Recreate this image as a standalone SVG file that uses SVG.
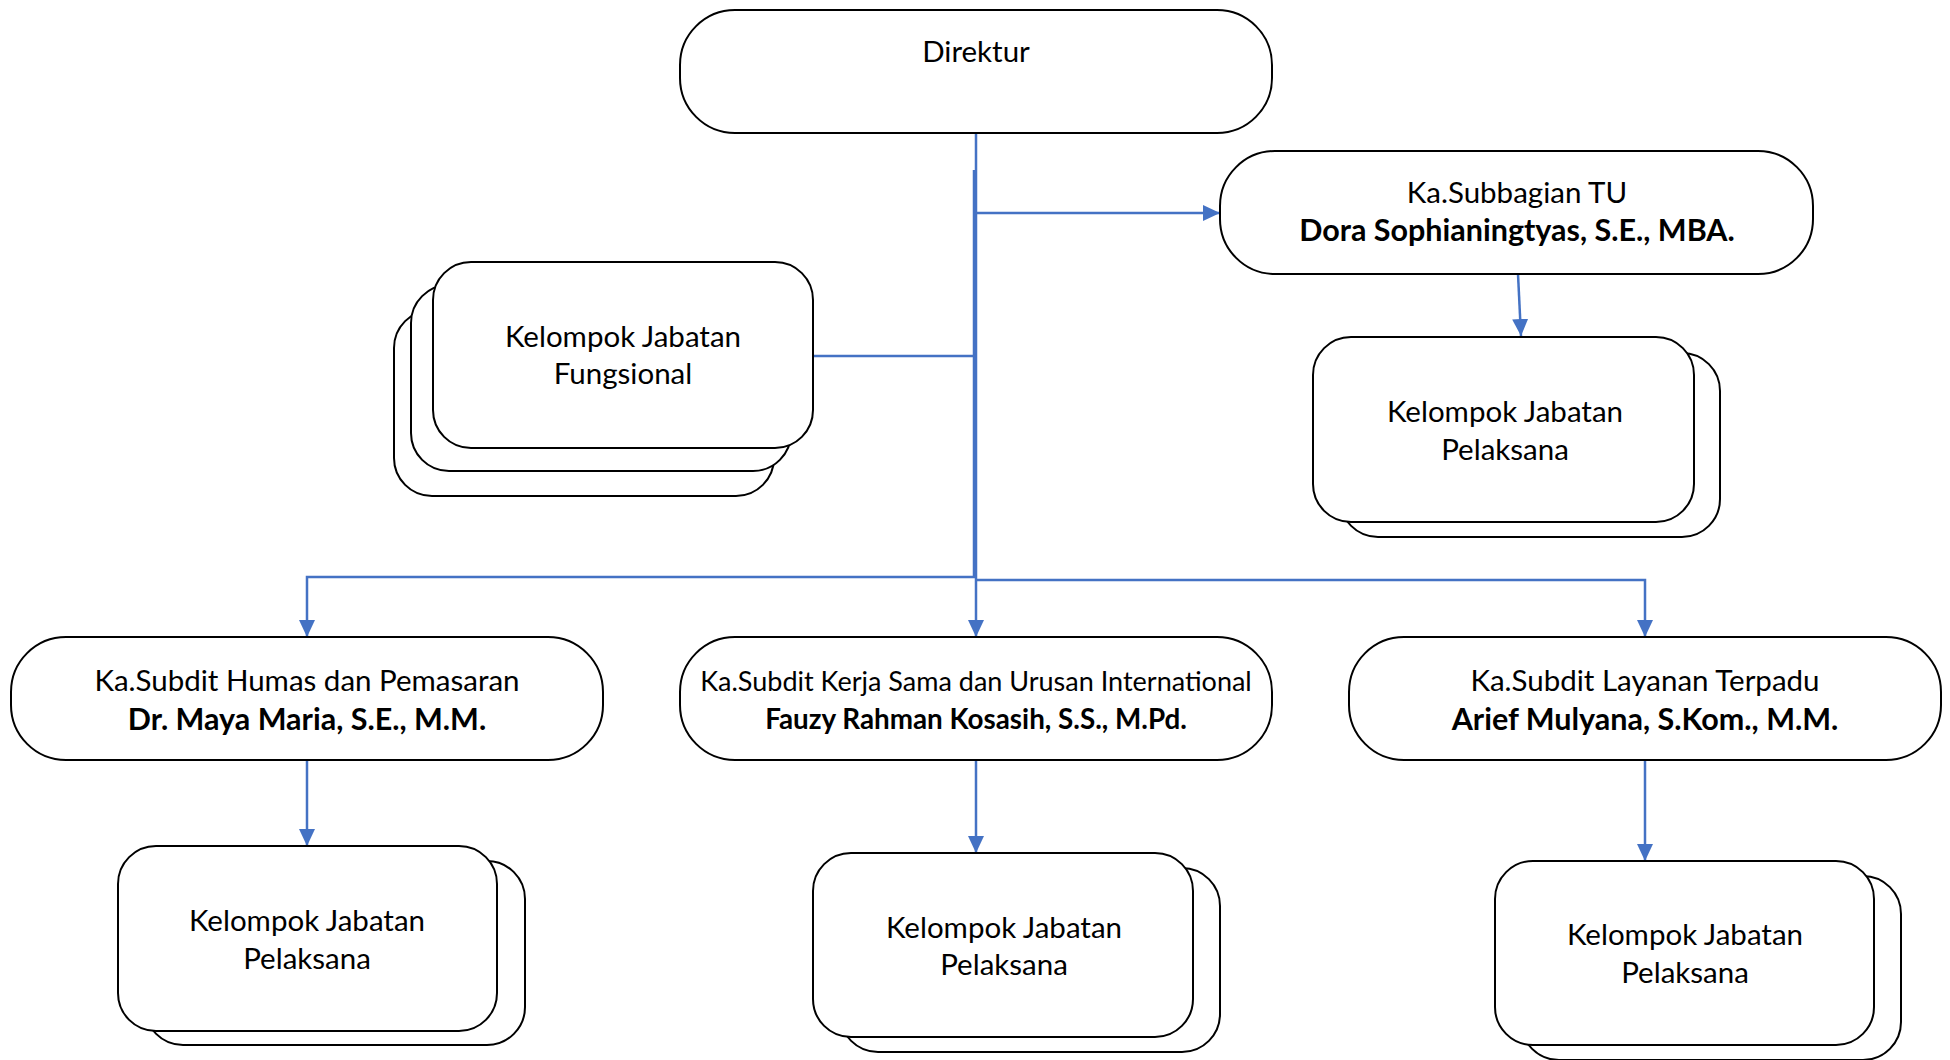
<svg xmlns="http://www.w3.org/2000/svg" width="1950" height="1060" viewBox="0 0 1950 1060">
<style>
.box{fill:#fff;stroke:#000;stroke-width:2}
.t{font-family:Lato,"Open Sans",sans-serif;font-size:29.5px;fill:#000;text-anchor:middle}
.b{font-weight:bold;font-size:30.5px}
.s{font-size:27px}
.bs{font-size:27.8px}
.c{fill:none;stroke:#4472C4;stroke-width:2.5}
</style>
<defs>
<marker id="arr" markerUnits="userSpaceOnUse" markerWidth="18" markerHeight="16" refX="17" refY="8" orient="auto">
<path d="M0,0 L17,8 L0,16 Z" fill="#4472C4"/>
</marker>
</defs>
<rect width="1950" height="1060" fill="#fff"/>

<g id="connectors">
<path class="c" d="M976,133 V578"/>
<path class="c" d="M974,170 V578"/>
<path class="c" d="M976,213 H1220" marker-end="url(#arr)"/>
<path class="c" d="M813,356 H976"/>
<path class="c" d="M976,577 H307 V637" marker-end="url(#arr)"/>
<path class="c" d="M976,580 H1645 V637" marker-end="url(#arr)"/>
<path class="c" d="M976,578 V637" marker-end="url(#arr)"/>
<path class="c" d="M1518,274 L1521,336" marker-end="url(#arr)"/>
<path class="c" d="M307,760 V846" marker-end="url(#arr)"/>
<path class="c" d="M976,760 V853" marker-end="url(#arr)"/>
<path class="c" d="M1645,760 V861" marker-end="url(#arr)"/>
</g>

<g id="direktur">
<rect class="box" x="680" y="10" width="592" height="123" rx="55"/>
<text class="t" x="976" y="62">Direktur</text>
</g>

<g id="subbagian-tu">
<rect class="box" x="1220" y="151" width="593" height="123" rx="55"/>
<text class="t" x="1517" y="203">Ka.Subbagian TU</text>
<text class="t b" x="1517" y="241">Dora Sophianingtyas, S.E., MBA.</text>
</g>

<g id="jabatan-fungsional">
<rect class="box" x="394" y="310" width="380" height="186" rx="38"/>
<rect class="box" x="411" y="285" width="380" height="186" rx="38"/>
<rect class="box" x="433" y="262" width="380" height="186" rx="38"/>
<text class="t" x="623" y="347">Kelompok Jabatan</text>
<text class="t" x="623" y="384">Fungsional</text>
</g>

<g id="pelaksana-tu">
<rect class="box" x="1340" y="353" width="380" height="184" rx="38"/>
<rect class="box" x="1313" y="337" width="381" height="185" rx="38"/>
<text class="t" x="1505" y="422">Kelompok Jabatan</text>
<text class="t" x="1505" y="460">Pelaksana</text>
</g>

<g id="subdit-humas">
<rect class="box" x="11" y="637" width="592" height="123" rx="55"/>
<text class="t" x="307" y="691">Ka.Subdit Humas dan Pemasaran</text>
<text class="t b" x="307" y="730">Dr. Maya Maria, S.E., M.M.</text>
</g>

<g id="subdit-kerjasama">
<rect class="box" x="680" y="637" width="592" height="123" rx="55"/>
<text class="t s" x="976" y="691">Ka.Subdit Kerja Sama dan Urusan International</text>
<text class="t b bs" x="976" y="729">Fauzy Rahman Kosasih, S.S., M.Pd.</text>
</g>

<g id="subdit-layanan">
<rect class="box" x="1349" y="637" width="592" height="123" rx="55"/>
<text class="t" x="1645" y="691">Ka.Subdit Layanan Terpadu</text>
<text class="t b" x="1645" y="730">Arief Mulyana, S.Kom., M.M.</text>
</g>

<g id="pelaksana-humas">
<rect class="box" x="145" y="861" width="380" height="184" rx="38"/>
<rect class="box" x="118" y="846" width="379" height="185" rx="38"/>
<text class="t" x="307" y="931">Kelompok Jabatan</text>
<text class="t" x="307" y="969">Pelaksana</text>
</g>

<g id="pelaksana-kerjasama">
<rect class="box" x="840" y="868" width="380" height="184" rx="38"/>
<rect class="box" x="813" y="853" width="380" height="184" rx="38"/>
<text class="t" x="1004" y="938">Kelompok Jabatan</text>
<text class="t" x="1004" y="975">Pelaksana</text>
</g>

<g id="pelaksana-layanan">
<rect class="box" x="1521" y="876" width="380" height="184" rx="38"/>
<rect class="box" x="1495" y="861" width="379" height="184" rx="38"/>
<text class="t" x="1685" y="945">Kelompok Jabatan</text>
<text class="t" x="1685" y="983">Pelaksana</text>
</g>
</svg>
